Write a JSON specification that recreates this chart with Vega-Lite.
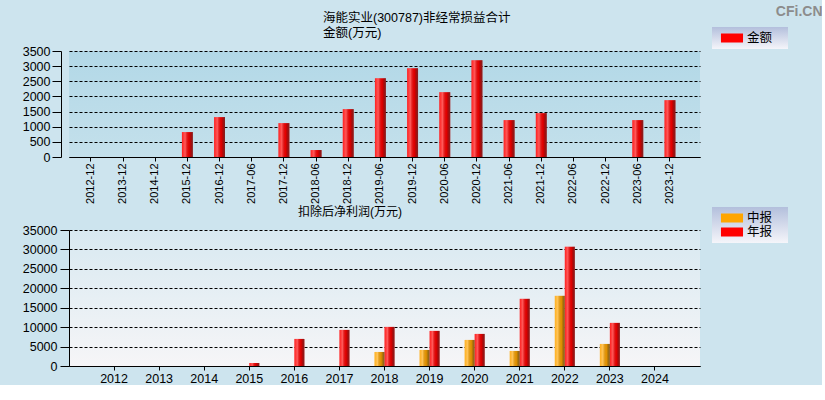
{
  "$schema": "https://vega.github.io/schema/vega-lite/v6.json",
  "background": "#cde4ee",
  "padding": {"left": 22, "top": 4, "right": 0, "bottom": 0},
  "autosize": {"type": "pad"},
  "config": {
    "font": "Liberation Sans, Noto Sans CJK SC",
    "view": {"stroke": null},
    "axis": {
      "domainColor": "#000000",
      "tickColor": "#000000",
      "labelColor": "#000000",
      "gridColor": "#000000",
      "gridDash": [3, 2],
      "gridOpacity": 1,
      "labelFontSize": 12.5,
      "domainWidth": 1,
      "tickWidth": 1
    },
    "legend": {
      "labelColor": "#000000",
      "labelFontSize": 12.5,
      "symbolStrokeWidth": 0,
      "symbolOpacity": 1
    }
  },
  "resolve": {"scale": {"color": "independent"}, "legend": {"color": "independent"}},
  "spacing": 2,
  "vconcat": [
    {
      "resolve": {"scale": {"color": "independent"}, "legend": {"color": "independent"}},
      "hconcat": [
        {
          "width": 631,
          "height": 106,
          "view": {
            "stroke": null,
            "fill": {"gradient": "linear", "x1": 0, "y1": 0, "x2": 0, "y2": 1, "stops": [{"offset": 0, "color": "#b2d8e7"}, {"offset": 1, "color": "#c4e0eb"}]}
          },
          "title": {
            "text": ["海能实业(300787)非经常损益合计", "金额(万元)"],
            "anchor": "start",
            "frame": "group",
            "dx": 254,
            "fontSize": 12.5,
            "fontWeight": "normal",
            "lineHeight": 15,
            "baseline": "bottom",
            "offset": -48,
            "color": "#000000"
          },
          "data": {
            "values": [
              {"period": "2015-12", "series": "金额", "value": 823},
              {"period": "2016-12", "series": "金额", "value": 1317},
              {"period": "2017-12", "series": "金额", "value": 1119},
              {"period": "2018-06", "series": "金额", "value": 230},
              {"period": "2018-12", "series": "金额", "value": 1580},
              {"period": "2019-06", "series": "金额", "value": 2600},
              {"period": "2019-12", "series": "金额", "value": 2929},
              {"period": "2020-06", "series": "金额", "value": 2140},
              {"period": "2020-12", "series": "金额", "value": 3193},
              {"period": "2021-06", "series": "金额", "value": 1218},
              {"period": "2021-12", "series": "金额", "value": 1448},
              {"period": "2023-06", "series": "金额", "value": 1218},
              {"period": "2023-12", "series": "金额", "value": 1876}
            ]
          },
          "encoding": {
            "x": {
              "field": "period",
              "type": "nominal",
              "sort": null,
              "scale": {
                "domain": ["2012-12", "2013-12", "2014-12", "2015-12", "2016-12", "2017-06", "2017-12", "2018-06", "2018-12", "2019-06", "2019-12", "2020-06", "2020-12", "2021-06", "2021-12", "2022-06", "2022-12", "2023-06", "2023-12"],
                "paddingInner": 0.66,
                "paddingOuter": 0.637,
                "align": 0.4
              },
              "axis": {"title": null, "labelAngle": -90, "labelFontSize": 11, "tickSize": 4, "labelPadding": 2, "grid": false}
            },
            "y": {
              "field": "value",
              "type": "quantitative",
              "scale": {"domain": [0, 3500], "nice": false},
              "axis": {
                "values": [0, 500, 1000, 1500, 2000, 2500, 3000, 3500],
                "format": "d",
                "offset": 8,
                "tickSize": 9,
                "labelPadding": 2,
                "grid": true,
                "title": "CFi.CN",
                "titleX": 761,
                "titleY": -47,
                "titlePadding": 0,
                "titleAngle": 0,
                "titleAlign": "right",
                "titleBaseline": "top",
                "titleColor": "#8c8c8c",
                "titleFontSize": 14,
                "titleFontWeight": "bold"
              }
            }
          },
          "layer": [
            {
              "mark": {"type": "bar"},
              "encoding": {
                "color": {
                  "field": "series",
                  "type": "nominal",
                  "scale": {"domain": ["金额"], "range": ["#ff0000"]},
                  "legend": {
                    "orient": "none",
                    "legendX": 643,
                    "legendY": -24,
                    "title": null,
                    "symbolType": "M-0.29,-0.64H2.86V0.64H-0.29Z M8.6,0L8.6,0",
                    "symbolSize": 196,
                    "padding": 4,
                    "labelOffset": 17,
                    "encode": {
                      "legend": {
                        "update": {
                          "fill": {"value": {"gradient": "linear", "x1": 0, "y1": 0, "x2": 0, "y2": 1, "stops": [{"offset": 0, "color": "#b3bfdc"}, {"offset": 1, "color": "#f5f5fa"}]}}
                        }
                      }
                    }
                  }
                }
              }
            },
            {
              "mark": {
                "type": "bar",
                "fill": {"gradient": "linear", "x1": 0, "y1": 0, "x2": 1, "y2": 0, "stops": [{"offset": 0, "color": "rgba(255,255,255,0.12)"}, {"offset": 0.3, "color": "rgba(255,255,255,0.35)"}, {"offset": 0.65, "color": "rgba(0,0,0,0.1)"}, {"offset": 1, "color": "rgba(60,60,60,0.65)"}]}
              }
            }
          ]
        }
      ]
    },
    {
      "resolve": {"scale": {"color": "independent"}, "legend": {"color": "independent"}},
      "hconcat": [
        {
          "width": 631,
          "height": 136,
          "view": {
            "stroke": null,
            "fill": {"gradient": "linear", "x1": 0, "y1": 0, "x2": 0, "y2": 1, "stops": [{"offset": 0, "color": "#d8e9f1"}, {"offset": 1, "color": "#f6f5f7"}]}
          },
          "title": {
            "text": "扣除后净利润(万元)",
            "anchor": "start",
            "frame": "group",
            "dx": 229,
            "fontSize": 12,
            "fontWeight": "normal",
            "baseline": "bottom",
            "offset": -24,
            "color": "#000000"
          },
          "data": {
            "values": [
              {"year": "2015", "type": "年报", "value": 780},
              {"year": "2016", "type": "年报", "value": 6966},
              {"year": "2017", "type": "年报", "value": 9288},
              {"year": "2018", "type": "中报", "value": 3612},
              {"year": "2018", "type": "年报", "value": 10062},
              {"year": "2019", "type": "中报", "value": 4128},
              {"year": "2019", "type": "年报", "value": 9030},
              {"year": "2020", "type": "中报", "value": 6708},
              {"year": "2020", "type": "年报", "value": 8256},
              {"year": "2021", "type": "中报", "value": 3870},
              {"year": "2021", "type": "年报", "value": 17286},
              {"year": "2022", "type": "中报", "value": 18060},
              {"year": "2022", "type": "年报", "value": 30702},
              {"year": "2023", "type": "中报", "value": 5676},
              {"year": "2023", "type": "年报", "value": 11094}
            ]
          },
          "encoding": {
            "x": {
              "field": "year",
              "type": "nominal",
              "sort": null,
              "scale": {
                "domain": ["2012", "2013", "2014", "2015", "2016", "2017", "2018", "2019", "2020", "2021", "2022", "2023", "2024"],
                "paddingInner": 0.556,
                "paddingOuter": 0.778
              },
              "axis": {"title": null, "labelAngle": 0, "tickSize": 4, "labelPadding": 2, "grid": false}
            },
            "xOffset": {
              "field": "type",
              "type": "nominal",
              "scale": {"domain": ["中报", "年报"], "paddingInner": 0, "paddingOuter": 0}
            },
            "y": {
              "field": "value",
              "type": "quantitative",
              "scale": {"domain": [0, 35000], "nice": false},
              "axis": {
                "values": [0, 5000, 10000, 15000, 20000, 25000, 30000, 35000],
                "format": "d",
                "tickSize": 9,
                "labelPadding": 3,
                "grid": true,
                "title": null
              }
            }
          },
          "layer": [
            {
              "mark": {"type": "bar"},
              "encoding": {
                "color": {
                  "field": "type",
                  "type": "nominal",
                  "scale": {"domain": ["中报", "年报"], "range": ["#ffa500", "#ff0000"]},
                  "legend": {
                    "orient": "none",
                    "legendX": 643,
                    "legendY": -23,
                    "title": null,
                    "symbolType": "M-0.29,-0.64H2.86V0.64H-0.29Z M8.6,0L8.6,0",
                    "symbolSize": 196,
                    "padding": 4,
                    "labelOffset": 17,
                    "rowPadding": 0,
                    "encode": {
                      "legend": {
                        "update": {
                          "fill": {"value": {"gradient": "linear", "x1": 0, "y1": 0, "x2": 0, "y2": 1, "stops": [{"offset": 0, "color": "#b3bfdc"}, {"offset": 1, "color": "#f5f5fa"}]}}
                        }
                      }
                    }
                  }
                }
              }
            },
            {
              "mark": {
                "type": "bar",
                "fill": {"gradient": "linear", "x1": 0, "y1": 0, "x2": 1, "y2": 0, "stops": [{"offset": 0, "color": "rgba(255,255,255,0.12)"}, {"offset": 0.3, "color": "rgba(255,255,255,0.35)"}, {"offset": 0.65, "color": "rgba(0,0,0,0.1)"}, {"offset": 1, "color": "rgba(60,60,60,0.65)"}]}
              }
            }
          ]
        }
      ]
    }
  ]
}
